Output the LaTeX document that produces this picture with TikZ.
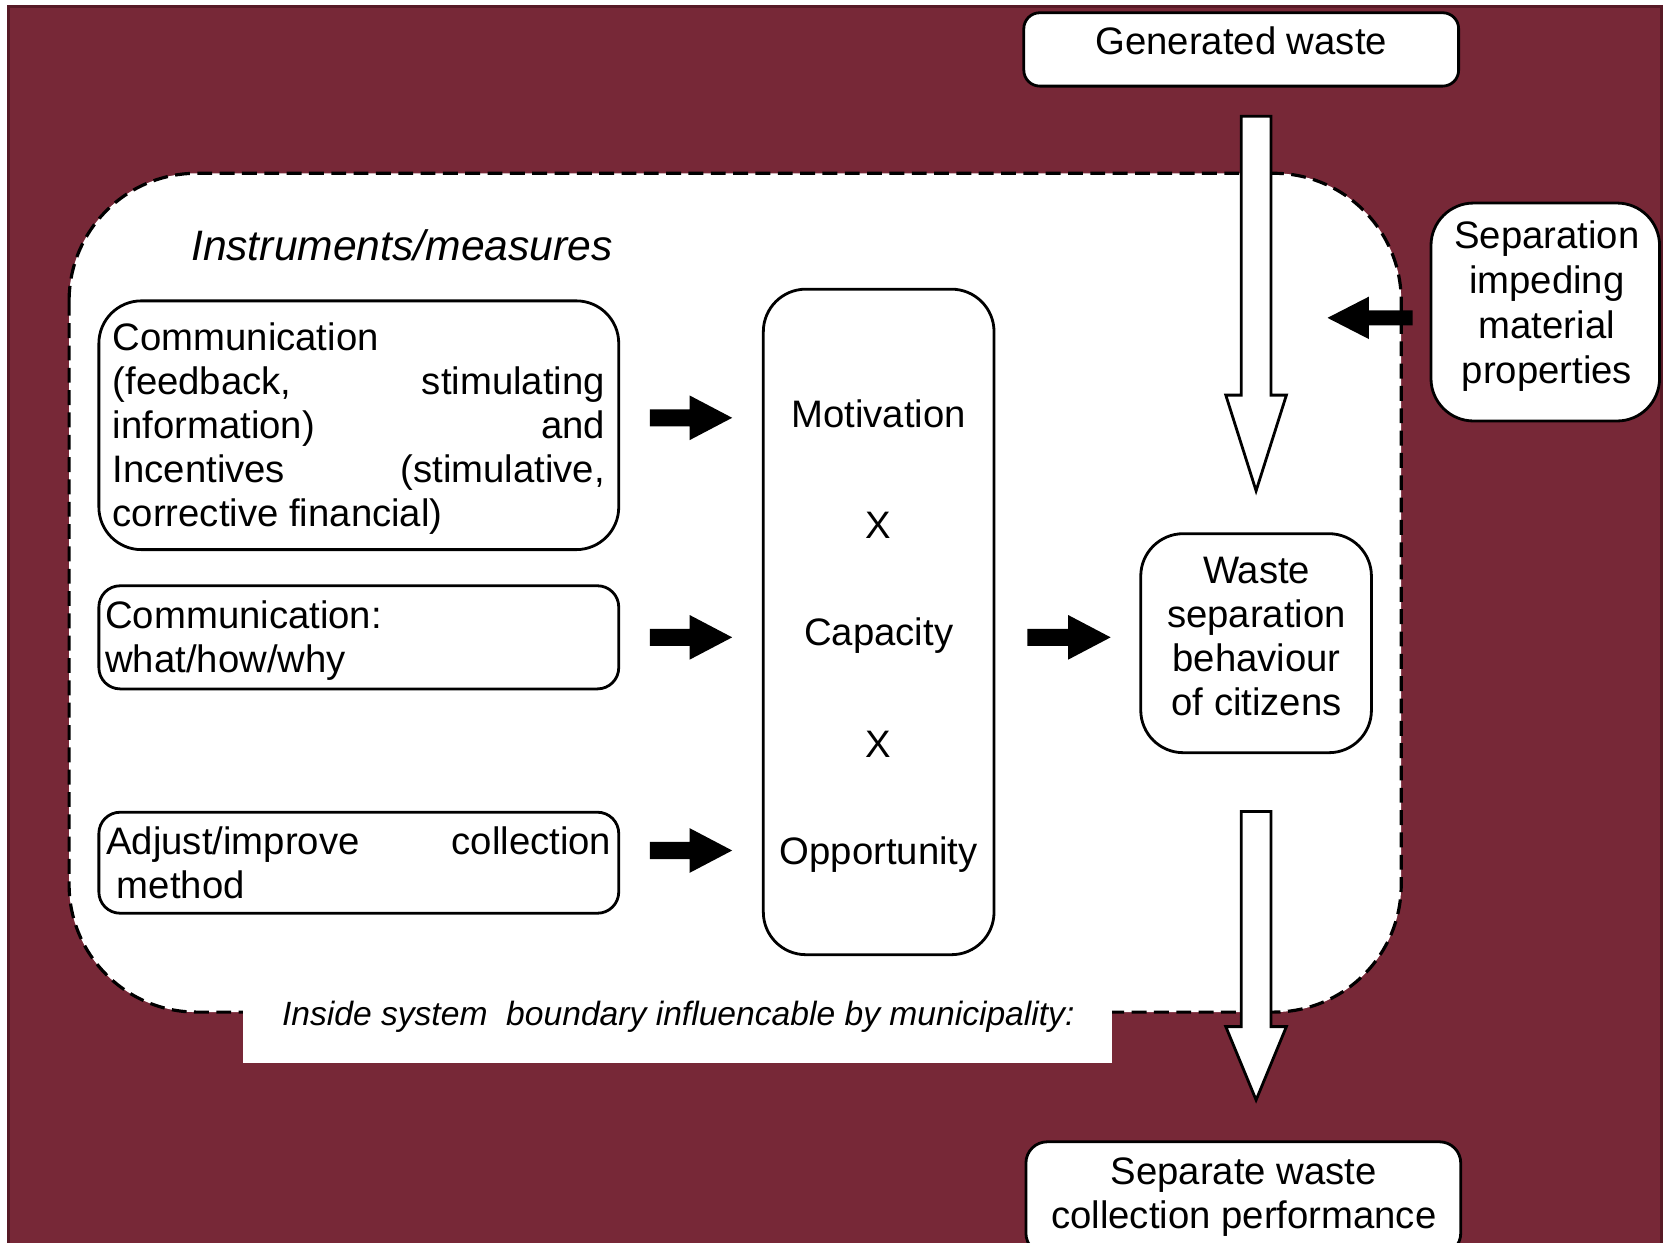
\documentclass[tikz,border=0pt]{standalone}
\usepackage{fontspec}
\setmainfont{Liberation Sans}
\usetikzlibrary{calc}
\definecolor{wine}{RGB}{119,40,55}
\definecolor{winedark}{RGB}{88,26,38}
\tikzset{
  txt/.style={font=\fontsize{10.25pt}{11.8pt}\selectfont, inner sep=0pt},
  frame/.style={draw=black, fill=white, line width=0.75pt, inner sep=0pt},
  boundary/.style={draw=black, fill=white, line width=0.85pt, dash pattern=on 1.4mm off 0.7mm, rounded corners=12mm},
  % filled block arrow pointing right
  blkr/.style={fill=black, to path={let \p1=(\tikztostart), \p2=(\tikztotarget) in
     (\x1,\y1+0.8mm) -- (\x2-4mm,\y1+0.8mm) -- (\x2-4mm,\y1+2.1mm) -- (\x2,\y1)
     -- (\x2-4mm,\y1-2.1mm) -- (\x2-4mm,\y1-0.8mm) -- (\x1,\y1-0.8mm) -- cycle}},
  % filled block arrow pointing left
  blkl/.style={fill=black, to path={let \p1=(\tikztostart), \p2=(\tikztotarget) in
     (\x1,\y1+0.7mm) -- (\x2+3.9mm,\y1+0.7mm) -- (\x2+3.9mm,\y1+2mm) -- (\x2,\y1)
     -- (\x2+3.9mm,\y1-2mm) -- (\x2+3.9mm,\y1-0.7mm) -- (\x1,\y1-0.7mm) -- cycle}},
  % hollow downward arrow, argument = head length
  hollow/.style={draw=black, fill=white, line width=0.75pt, to path={let \p1=(\tikztostart), \p2=(\tikztotarget) in
     (\x1-1.4mm,\y1) -- (\x1+1.4mm,\y1) -- (\x1+1.4mm,\y2+#1) -- (\x1+2.85mm,\y2+#1)
     -- (\x1,\y2) -- (\x1-2.85mm,\y2+#1) -- (\x1-1.4mm,\y2+#1) -- cycle}},
}
\begin{document}
\begin{tikzpicture}[x=0.1mm,y=-0.1mm]
\useasboundingbox (0,0) rectangle (1568,1169);

% outer field
\fill[wine] (8,6) rectangle (1563,1180);
\draw[winedark, line width=0.8pt] (8,1180) -- (8,6) -- (1563,6) -- (1563,1180);

% system boundary
\draw[boundary] (65,163) rectangle (1318,952);
\node[fill=white, inner sep=0pt, minimum width=81.7mm, minimum height=6mm] (strip) at (637.5,970) {};
\node[inner sep=0pt, font=\fontsize{9pt}{10pt}\selectfont\itshape] (striptxt) at (638,956)
  {Inside system\ \ boundary influencable by municipality:};

\node[inner sep=0pt, font=\fontsize{11.4pt}{13pt}\selectfont\itshape] (title) at (378,231) {Instruments/measures};

% instruments
\node[frame, rounded corners=4mm, minimum width=48.9mm, minimum height=23.4mm] (b1) at (337.5,400) {};
\node[txt] (b1txt) at (337.5,403)
  {\parbox{46.3mm}{Communication\\
   (feedback,\hfill stimulating\\
   information)\hfill and\\
   Incentives\hfill (stimulative,\\
   corrective financial)}};
\node[frame, rounded corners=2mm, minimum width=48.9mm, minimum height=9.7mm] (b2) at (337.5,599.5) {};
\node[txt] (b2txt) at (337.5,602.5) {\parbox{47.7mm}{Communication:\\what/how/why}};
\node[frame, rounded corners=2mm, minimum width=48.9mm, minimum height=9.5mm] (b3) at (337.5,811.5) {};
\node[txt] (b3txt) at (337.5,812) {\parbox{47.5mm}{Adjust/improve\hfill collection\\\hspace*{1mm}method}};

% determinants
\node[frame, rounded corners=4mm, minimum width=21.7mm, minimum height=62.6mm] (mid) at (826.5,585) {};
\node[txt] (mot) at (826.5,389) {Motivation};
\node[txt] (x1) at (826.5,494) {X};
\node[txt, text height=2.58mm, text depth=0pt] (cap) at (826.5,594) {Capacity};
\node[txt] (x2) at (826.5,700) {X};
\node[txt, text height=2.58mm, text depth=0pt] (opp) at (826.5,800) {Opportunity};

% behaviour
\node[frame, rounded corners=4mm, minimum width=21.7mm, minimum height=20.6mm] (beh) at (1181.5,605) {};
\node[txt, align=center] (behtxt) at (1182,599) {Waste\\separation\\behaviour\\of citizens};

% outside the boundary
\node[frame, rounded corners=1.5mm, minimum width=40.9mm, minimum height=6.9mm] (gen) at (1167.5,46.5) {};
\node[txt] (gentxt) at (1167.5,38) {Generated waste};

\node[frame, rounded corners=4mm, minimum width=21.5mm, minimum height=20.5mm] (sep) at (1453.5,293.5) {};
\node[txt, align=center, font=\fontsize{10.25pt}{12.1pt}\selectfont] (septxt) at (1455,288) {Separation\\impeding\\material\\properties};

\node[frame, rounded corners=2mm, minimum width=40.9mm, minimum height=10.6mm] (perf) at (1169.5,1127) {};
\node[txt, align=center] (perftxt) at (1170,1126) {Separate waste\\collection performance};

% flows
\path[hollow=9mm] ($(beh.north |- gen.south)+(0,27)$) to ($(beh.north)+(0,-39)$);
\path[hollow=6.9mm] ($(beh.south)+(0,54)$) to ($(beh.south |- perf.north)+(0,-38)$);

\path[blkr] ($(b1.east |- mot)+(28,4)$) to ($(mid.west |- mot)+(-28,4)$);
\path[blkr] ($(b2.east)+(28,0)$) to ($(mid.west |- b2.east)+(-28,0)$);
\path[blkr] ($(b3.east |- opp)+(28,0)$) to ($(mid.west |- opp)+(-28,0)$);
\path[blkr] ($(mid.east |- b2.east)+(30,0)$) to ($(beh.west |- b2.east)+(-27,0)$);
\path[blkl] ($(sep.west)+(-16,5.5)$) to ($(sep.west)+(-96,5.5)$);
\end{tikzpicture}
\end{document}
